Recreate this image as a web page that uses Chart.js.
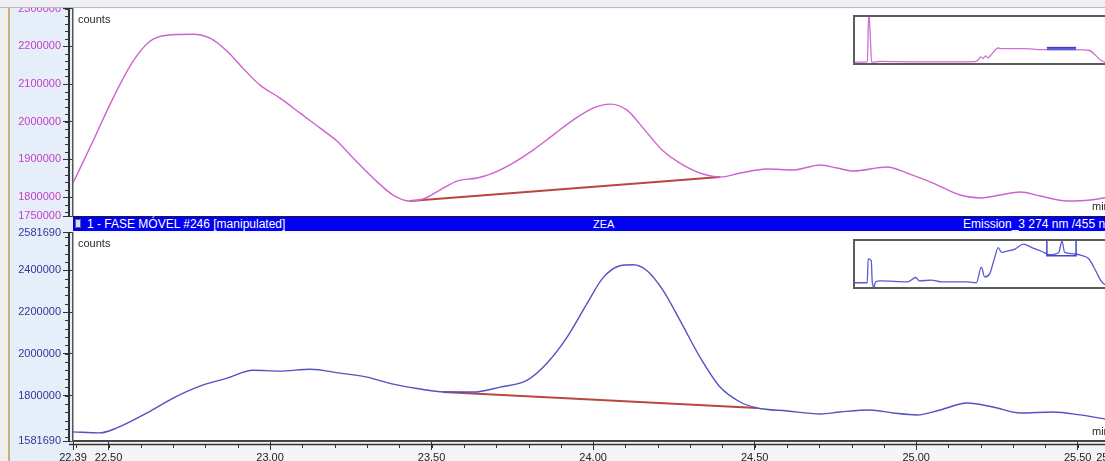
<!DOCTYPE html>
<html>
<head>
<meta charset="utf-8">
<script src="https://cdn.jsdelivr.net/npm/chart.js@4.4.1/dist/chart.umd.min.js"></script>
<style>
  html, body { margin: 0; padding: 0; width: 1105px; height: 461px; overflow: hidden; background: #f4f5f7; }
  #wrap { position: relative; width: 1105px; height: 461px; overflow: hidden; font-family: "Liberation Sans", Arial, sans-serif; }
  .abs { position: absolute; }
  #edge { left: 0; top: 0; width: 8px; height: 461px; background: #eeeeee; }
  #tan { left: 8px; top: 0; width: 2px; height: 461px; background: #c8b07a; }
  #panel { left: 10px; top: 0; width: 63px; height: 461px; background: #e6eef9; }
  #topCanvas { left: 0; top: 0; z-index: 2; }
  #bottomCanvas { left: 0; top: 224px; z-index: 2; }
  #cap { left: 0; top: 0; width: 1105px; height: 8px; background: #eef0f3; border-bottom: 1px solid #b9bcc2; box-sizing: border-box; z-index: 3; }
  #bar { left: 73px; top: 216px; width: 1060px; height: 15px; background: #0000f2; border-top: 1px solid #1a1a40; box-sizing: border-box; z-index: 4;
         color: #fff; font-size: 12px; line-height: 14px; white-space: nowrap; }
  #bar span { position: absolute; top: 0; }
  #icon { left: 2px; top: 2px !important; width: 6px; height: 9px; background: #d8dce8; border: 1px solid #606070; box-sizing: border-box; }
  .inset { z-index: 5; background: #fff; border: 2px solid #5c5c5c; width: 262px; height: 46px; }
  .inset canvas { display: block; }
</style>
</head>
<body>
<div id="wrap">
  <div id="edge" class="abs"></div>
  <div id="tan" class="abs"></div>
  <div id="panel" class="abs"></div>
  <canvas id="topCanvas" class="abs" width="1130" height="230"></canvas>
  <canvas id="bottomCanvas" class="abs" width="1130" height="237"></canvas>
  <div id="cap" class="abs"></div>
  <div id="bar" class="abs">
    <span id="icon"></span>
    <span style="left:14px">1 - FASE MÓVEL #246 [manipulated]</span>
    <span style="left:520px; font-size:11px">ZEA</span>
    <span style="left:890px">Emission_3 274 nm /455 nm</span>
  </div>
  <div class="abs inset" style="left:853px; top:15px;"><canvas id="overviewTop" width="262" height="46"></canvas></div>
  <div class="abs inset" style="left:853px; top:239px;"><canvas id="overviewBottom" width="262" height="46"></canvas></div>
</div>

<script>
// Retention time window (min)
const timeRange = [22.39, 25.60];
const timeTicks = [22.39, 22.50, 23.00, 23.50, 24.00, 24.50, 25.00, 25.50, 25.60];

// Upper trace (magenta)
const topRange = [1750000, 2300000];
const topTicks = [1750000, 1800000, 1900000, 2000000, 2100000, 2200000, 2300000];
const topTimes = [22.390, 22.452, 22.514, 22.576, 22.628, 22.681, 22.762, 22.814, 22.867, 22.916,
                  22.969, 23.031, 23.093, 23.155, 23.207, 23.257, 23.319, 23.381, 23.433, 23.474,
                  23.526, 23.579, 23.641, 23.690, 23.752, 23.814, 23.876, 23.938, 24.000, 24.053,
                  24.105, 24.155, 24.217, 24.279, 24.340, 24.393, 24.455, 24.539, 24.619, 24.703,
                  24.755, 24.805, 24.910, 24.972, 25.052, 25.136, 25.198, 25.260, 25.322, 25.384,
                  25.467, 25.539, 25.600];
const topCounts = [1837400, 1948700, 2062600, 2160600, 2213600, 2229500, 2232100, 2221500, 2187100, 2142100,
                   2097000, 2062600, 2022800, 1983100, 1948700, 1903600, 1850700, 1805600, 1789700, 1795000,
                   1818900, 1842700, 1850700, 1863900, 1890400, 1924800, 1964600, 2004300, 2036100, 2046700,
                   2030800, 1983100, 1922200, 1885100, 1861300, 1853300, 1863900, 1874500, 1871900, 1885100,
                   1877200, 1869200, 1879800, 1863900, 1837400, 1805600, 1797700, 1805600, 1813600, 1803000,
                   1789700, 1792400, 1801000];
const topBaseTimes = [23.433, 24.393];
const topBaseCounts = [1789700, 1853300];

// Lower trace (blue)
const bottomRange = [1581690, 2581690];
const bottomTicks = [1581690, 1800000, 2000000, 2200000, 2400000, 2581690];
const bottomTimes = [22.390, 22.474, 22.526, 22.619, 22.700, 22.783, 22.867, 22.947, 23.031, 23.124,
                     23.217, 23.300, 23.381, 23.464, 23.548, 23.628, 23.712, 23.796, 23.857, 23.919,
                     23.981, 24.031, 24.083, 24.124, 24.167, 24.217, 24.269, 24.331, 24.393, 24.455,
                     24.508, 24.601, 24.703, 24.765, 24.857, 24.929, 25.003, 25.074, 25.158, 25.238,
                     25.322, 25.424, 25.508, 25.600];
const bottomCounts = [1625600, 1620800, 1644700, 1716300, 1787900, 1845200, 1883400, 1921500, 1916800, 1926300,
                      1907200, 1888100, 1854700, 1830900, 1816500, 1816500, 1840400, 1873800, 1955000, 2079100,
                      2241400, 2365500, 2422700, 2427500, 2398900, 2303400, 2160200, 1983600, 1840400, 1768800,
                      1740200, 1725800, 1711500, 1721100, 1730600, 1716300, 1706800, 1730600, 1764000, 1744900,
                      1716300, 1721100, 1706800, 1683000];
const bottomBaseTimes = [23.536, 24.508];
const bottomBaseCounts = [1816500, 1740200];

// Whole-run overviews (relative level, %)
const overviewRange = [1.3, 30.1];
const overviewTopTimes = [1.3, 2.50, 2.65, 2.82, 3.01, 3.12, 3.5, 4.12, 8.0, 12.0, 14.5, 14.82, 15.11, 15.38,
                          15.63, 15.93, 16.22, 17.04, 17.41, 19.99, 21.84, 25.52, 27.0, 27.74, 28.29, 28.85, 30.1];
const overviewTopLevels = [2, 2, 3, 110, 45, 2, 2, 3.5, 2.5, 2.5, 3, 6.4, 13.4, 10,
                           15.5, 11.3, 17, 32.6, 31.3, 31.3, 29.1, 29.1, 27.7, 17, 6.4, 1.5, 0];
const overviewTopWindow = [27.7, 34];
const overviewBottomTimes = [1.3, 2.64, 2.75, 3.09, 3.20, 3.38, 3.56, 4.12, 7.07, 7.99, 8.36, 9.66, 10.76,
                             13.72, 14.64, 15.19, 15.56, 16.11, 16.66, 17.04, 17.41, 18.15, 18.88, 19.81,
                             20.73, 21.84, 22.76, 23.69, 24.05, 24.35, 25.52, 26.27, 27.01, 27.74, 28.29,
                             28.85, 30.1];
const overviewBottomLevels = [9.2, 9.2, 61, 57, 9.2, 0, 11.3, 13.4, 11.3, 20.6, 13.4, 14.9, 11.3,
                              11.3, 9.2, 43.2, 21.9, 29, 64.5, 85.7, 75.1, 78.7, 82.3, 93,
                              85.7, 77.2, 70.2, 75.1, 100, 75.1, 71.7, 68, 61, 36, 15,
                              4.3, 0];
const overviewBottomWindow = [68, 104];

const pts = (xs, ys) => xs.map((x, i) => ({ x, y: ys[i] }));

Chart.defaults.font.family = '"Liberation Sans", Arial, sans-serif';
Chart.defaults.font.size = 11;
Chart.defaults.animation = false;

// White plot area, minor ticks, double axis lines and in-plot captions
const decor = {
  id: 'decor',
  beforeDraw(chart, args, o) {
    const { ctx, chartArea: a } = chart;
    ctx.save();
    ctx.fillStyle = '#ffffff';
    ctx.fillRect(a.left, a.top, a.right - a.left, a.bottom - a.top);
    ctx.restore();
  },
  afterDraw(chart, args, o) {
    const { ctx, chartArea: a } = chart;
    ctx.save();
    ctx.strokeStyle = '#333';
    // second vertical axis line
    ctx.lineWidth = 2;
    ctx.beginPath(); ctx.moveTo(a.left - 4, a.top); ctx.lineTo(a.left - 4, a.bottom); ctx.stroke();
    ctx.lineWidth = 1;
    if (o.yMinorStep) {
      const s = chart.scales.y;
      const start = Math.ceil(s.min / o.yMinorStep) * o.yMinorStep;
      for (let v = start; v <= s.max; v += o.yMinorStep) {
        const py = Math.round(s.getPixelForValue(v)) + 0.5;
        ctx.beginPath(); ctx.moveTo(a.left - 8, py); ctx.lineTo(a.left - 4, py); ctx.stroke();
      }
    }
    if (o.xMinorStep) {
      const s = chart.scales.x;
      ctx.lineWidth = 1.5;
      ctx.beginPath(); ctx.moveTo(a.left - 4, a.bottom + 3.5); ctx.lineTo(a.right, a.bottom + 3.5); ctx.stroke();
      ctx.lineWidth = 1;
      for (let k = Math.ceil(s.min * 10); k <= Math.floor(s.max * 10); k++) {
        const px = Math.round(s.getPixelForValue(k / 10)) + 0.5;
        ctx.beginPath(); ctx.moveTo(px, a.bottom + 4); ctx.lineTo(px, a.bottom + 7); ctx.stroke();
      }
    }
    ctx.fillStyle = '#2a2a2a';
    ctx.font = '11px "Liberation Sans", Arial, sans-serif';
    ctx.textBaseline = 'alphabetic';
    ctx.fillText('counts', a.left + 5, a.top + 14);
    ctx.fillText('min', 1092, a.bottom - 6);
    ctx.restore();
  }
};

function mainChart(id, opts) {
  return new Chart(document.getElementById(id), {
    type: 'line',
    data: {
      datasets: [
        { data: pts(opts.times, opts.counts), borderColor: opts.color, borderWidth: 1.4,
          pointRadius: 0, cubicInterpolationMode: 'monotone', fill: false },
        { data: pts(opts.baseTimes, opts.baseCounts), borderColor: '#b8473f', borderWidth: 2,
          pointRadius: 0, tension: 0, fill: false }
      ]
    },
    options: {
      responsive: false,
      layout: { padding: opts.padding },
      plugins: { legend: { display: false }, tooltip: { enabled: false }, decor: opts.decor },
      scales: {
        x: {
          type: 'linear', min: timeRange[0], max: timeRange[1], display: opts.showX,
          afterBuildTicks: s => { s.ticks = timeTicks.map(v => ({ value: v })); },
          afterFit: s => { if (opts.showX) s.height = 20; },
          ticks: { color: '#222', padding: 1, maxRotation: 0, autoSkip: false,
                   callback: v => Number(v).toFixed(2) },
          grid: { drawOnChartArea: false, drawTicks: true, tickLength: 9, tickColor: '#333', tickWidth: 1 },
          border: { display: true, color: '#444', width: 2 }
        },
        y: {
          type: 'linear', min: opts.range[0], max: opts.range[1],
          afterBuildTicks: s => { s.ticks = opts.ticks.map(v => ({ value: v })); },
          afterFit: s => { s.width = 73; },
          ticks: { color: opts.labelColor, padding: 2, autoSkip: false, callback: v => String(v) },
          grid: { drawOnChartArea: false, drawTicks: true, tickLength: 10, tickColor: '#333', tickWidth: 1 },
          border: { display: true, color: '#555', width: 1.5 }
        }
      }
    },
    plugins: [decor]
  });
}

mainChart('topCanvas', {
  times: topTimes, counts: topCounts, baseTimes: topBaseTimes, baseCounts: topBaseCounts,
  range: topRange, ticks: topTicks, color: '#cf62cf', labelColor: '#c43fc4',
  padding: { top: 8, right: 20, bottom: 14, left: 0 }, showX: false,
  decor: { yMinorStep: 20000 }
});

mainChart('bottomCanvas', {
  times: bottomTimes, counts: bottomCounts, baseTimes: bottomBaseTimes, baseCounts: bottomBaseCounts,
  range: bottomRange, ticks: bottomTicks, color: '#5252c2', labelColor: '#35359a',
  padding: { top: 7, right: 20, bottom: 0, left: 0 }, showX: true,
  decor: { yMinorStep: 40000, xMinorStep: 0.1 }
});

function overview(id, times, levels, color, windowLevels, filled) {
  const w = [
    { x: timeRange[0], y: windowLevels[1] }, { x: timeRange[0], y: windowLevels[0] },
    { x: timeRange[1], y: windowLevels[0] }, { x: timeRange[1], y: windowLevels[1] }
  ];
  const windowSet = filled
    ? { data: [{ x: timeRange[0], y: windowLevels[1] }, { x: timeRange[1], y: windowLevels[1] }],
        borderColor: '#3434b8', borderWidth: 1, backgroundColor: '#5c5cd6', fill: { value: windowLevels[0] },
        pointRadius: 0, tension: 0 }
    : { data: w, borderColor: '#4646c4', borderWidth: 1.5, pointRadius: 0, tension: 0, fill: false };
  return new Chart(document.getElementById(id), {
    type: 'line',
    data: {
      datasets: [
        windowSet,
        { data: pts(times, levels), borderColor: color, borderWidth: 1.3, pointRadius: 0,
          cubicInterpolationMode: 'monotone', fill: false }
      ]
    },
    options: {
      responsive: false,
      layout: { padding: 0 },
      plugins: { legend: { display: false }, tooltip: { enabled: false } },
      scales: {
        x: { type: 'linear', display: false, min: overviewRange[0], max: overviewRange[1] },
        y: { type: 'linear', display: false, min: 0, max: 100 }
      }
    }
  });
}

overview('overviewTop', overviewTopTimes, overviewTopLevels, '#d070d0', overviewTopWindow, true);
overview('overviewBottom', overviewBottomTimes, overviewBottomLevels, '#5a5ad0', overviewBottomWindow, false);
</script>
</body>
</html>
